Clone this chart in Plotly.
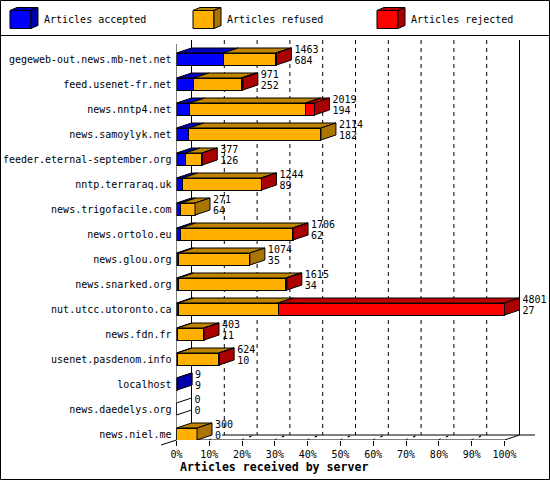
import plotly.graph_objects as go

# Data
servers = ["gegeweb-out.news.mb-net.net", "feed.usenet-fr.net", "news.nntp4.net", "news.samoylyk.net",
           "feeder.eternal-september.org", "nntp.terraraq.uk", "news.trigofacile.com", "news.ortolo.eu",
           "news.glou.org", "news.snarked.org", "nut.utcc.utoronto.ca", "news.fdn.fr",
           "usenet.pasdenom.info", "localhost", "news.daedelys.org", "news.niel.me"]
received = [1463, 971, 2019, 2114, 377, 1244, 271, 1706, 1074, 1615, 4801, 403, 624, 9, 0, 300]
accepted = [684, 252, 194, 182, 126, 89, 64, 62, 35, 34, 27, 11, 10, 9, 0, 0]
refused = [771, 694, 1695, 1932, 246, 1150, 207, 1639, 1039, 1566, 1460, 387, 609, 0, 0, 300]
rejected = [8, 25, 130, 0, 5, 5, 0, 5, 0, 15, 3314, 5, 5, 0, 0, 0]
pct_ticks = [0, 10, 20, 30, 40, 50, 60, 70, 80, 90, 100]

series_names = ["Articles accepted", "Articles refused", "Articles rejected"]
series_values = [accepted, refused, rejected]
front_colors = ["#0000ff", "#ffb000", "#ff0000"]
top_colors = ["#0000bf", "#bf8400", "#bf0000"]
side_colors = ["#0000aa", "#aa7500", "#aa0000"]

FONT = "DejaVu Sans Mono"
W, H = 550, 480

# pixel layout of the plot area
LEFT, RIGHT = 176.5, 549
TOP, BOTTOM = 40, 440
PX_X = 100 / 328   # percent per pixel
PX_Y = 1 / 25      # rows per pixel
DX = 15 * PX_X     # 3d depth
DY = 5 * PX_Y
HALF = 6 * PX_Y    # half bar height

scale = 100 / max(received)
rows = list(range(len(servers)))


def poly(xs, ys):
    return xs + [xs[0], None], ys + [ys[0], None]


fig = go.Figure()

# front faces
for name, vals, col in zip(series_names, series_values, front_colors):
    fig.add_trace(go.Bar(
        y=rows, x=[v * scale for v in vals], orientation="h", width=2 * HALF,
        marker=dict(color=col, line=dict(color="black", width=1)), name=name,
    ))

# top and side faces of the 3d bars
for k in range(3):
    tx, ty, sx, sy = [], [], [], []
    for i in rows:
        start = sum(series_values[j][i] for j in range(k)) * scale
        end = start + series_values[k][i] * scale
        if series_values[k][i] > 0:
            a, b = poly([start, end, end + DX, start + DX],
                        [i - HALF, i - HALF, i - HALF - DY, i - HALF - DY])
            tx += a
            ty += b
            later = sum(series_values[j][i] for j in range(k + 1, 3))
            if later == 0:
                a, b = poly([end, end + DX, end + DX, end],
                            [i - HALF, i - HALF - DY, i + HALF - DY, i + HALF])
                sx += a
                sy += b
    fig.add_trace(go.Scatter(x=tx, y=ty, mode="lines", fill="toself", fillcolor=top_colors[k],
                             line=dict(color="black", width=1), showlegend=False))
    fig.add_trace(go.Scatter(x=sx, y=sy, mode="lines", fill="toself", fillcolor=side_colors[k],
                             line=dict(color="black", width=1), showlegend=False))

# servers without articles only leave the outline
ex, ey = [], []
for i in rows:
    if received[i] == 0:
        a, b = poly([0, DX, DX, 0], [i - HALF, i - HALF - DY, i + HALF - DY, i + HALF])
        ex += a
        ey += b
fig.add_trace(go.Scatter(x=ex, y=ey, mode="lines", fill="toself", fillcolor="white",
                         line=dict(color="black", width=1), showlegend=False))

# value labels
for offset, vals in [(-8.5 * PX_Y, received), (2 * PX_Y, accepted)]:
    fig.add_trace(go.Scatter(
        x=[r * scale + DX + 3 * PX_X for r in received],
        y=[i + offset for i in rows],
        mode="text", text=[str(v) for v in vals], textposition="middle right",
        textfont=dict(family=FONT, size=10, color="black"),
        cliponaxis=False, showlegend=False,
    ))

shapes = []


def line(x0, y0, x1, y1, dash="solid", xref="x", yref="y", layer="below"):
    shapes.append(dict(type="line", x0=x0, y0=y0, x1=x1, y1=y1, xref=xref, yref=yref, layer=layer,
                       line=dict(color="black", width=1, dash=dash)))


row_bottom = (BOTTOM - 59) * PX_Y
row_top = (TOP - 59) * PX_Y
back_floor = row_bottom - DY

# walls, grid and floor
for t in pct_ticks[1:-1]:
    line(t + DX, row_top, t + DX, back_floor, dash="4px,4px")
line(DX, row_top, DX, back_floor)
line(100 + DX, row_top, 100 + DX, back_floor)
line(0, row_top + 4 * PX_Y, 0, row_bottom)
line(0, row_bottom, 100, row_bottom)
line(100, row_bottom, 100 + DX, back_floor)
line((222 - LEFT) * PX_X, back_floor, (535 - LEFT) * PX_X, back_floor)
for t in pct_ticks[2:-1]:
    line(t + 7 * PX_X, row_bottom - 3 * PX_Y, t + 9 * PX_X, row_bottom - 4 * PX_Y)
    line(t + 7.5 * PX_X, row_bottom - 3 * PX_Y, t + 9.5 * PX_X, row_bottom - 4 * PX_Y)
for t in pct_ticks[1:-1]:
    line(t, row_bottom, t + 1.5 * PX_X, row_bottom - 1.5 * PX_Y)

# frame and legend separator
shapes.append(dict(type="rect", x0=0.5 / W, x1=(W - 0.5) / W, y0=0.5 / H, y1=(H - 0.5) / H,
                   xref="paper", yref="paper", line=dict(color="black", width=1)))
line(0, 1 - 35.5 / H, 1, 1 - 35.5 / H, xref="paper", yref="paper")
line(161 / W, 1 - 445 / H, LEFT / W, 1 - 440 / H, xref="paper", yref="paper")

annotations = []

# legend, drawn as little boxes like the bars
legend_x = [10, 193, 377]
for x0, name, front, top, side in zip(legend_x, series_names, front_colors, top_colors, side_colors):
    y0, y1, w, dx, dy = 10.5, 28.5, 21, 7, 3
    faces = [
        (front, [(x0, y0), (x0 + w, y0), (x0 + w, y1), (x0, y1)]),
        (top, [(x0, y0), (x0 + dx, y0 - dy), (x0 + w + dx, y0 - dy), (x0 + w, y0)]),
        (side, [(x0 + w, y0), (x0 + w + dx, y0 - dy), (x0 + w + dx, y1 - dy), (x0 + w, y1)]),
    ]
    for col, pts in faces:
        path = "M " + " L ".join(f"{px / W:.5f},{1 - py / H:.5f}" for px, py in pts) + " Z"
        shapes.append(dict(type="path", path=path, xref="paper", yref="paper", fillcolor=col,
                           line=dict(color="black", width=1)))
    annotations.append(dict(text=name, x=(x0 + 32) / W, y=1 - 20 / H, xref="paper", yref="paper",
                            xanchor="left", yanchor="middle", showarrow=False,
                            font=dict(family=FONT, size=10, color="black")))

annotations.append(dict(text="<b>Articles received by server</b>", x=274 / W, y=1 - 467 / H,
                        xref="paper", yref="paper", xanchor="center", yanchor="middle", showarrow=False,
                        font=dict(family=FONT, size=11.6, color="black")))

fig.update_layout(
    width=W, height=H, barmode="stack", showlegend=False,
    margin=dict(l=0, r=0, t=0, b=0),
    paper_bgcolor="white", plot_bgcolor="white",
    xaxis=dict(
        domain=[LEFT / W, RIGHT / W], range=[0, (RIGHT - LEFT) * PX_X], automargin=False,
        tickvals=pct_ticks, ticktext=[f"{t}%" for t in pct_ticks],
        ticks="outside", ticklen=5, tickwidth=1, tickcolor="black",
        tickfont=dict(family=FONT, size=10, color="black"), tickangle=0,
        showgrid=False, zeroline=False, showline=False,
    ),
    yaxis=dict(
        domain=[1 - BOTTOM / H, 1 - TOP / H], range=[row_bottom, row_top], automargin=False,
        tickvals=rows, ticktext=servers, ticks="", ticklabelstandoff=4,
        tickfont=dict(family=FONT, size=10, color="black"),
        showgrid=False, zeroline=False, showline=False,
    ),
    shapes=shapes, annotations=annotations,
)

# the page margin would push the figure out of the window
fig.write_html("out.html", config=dict(displayModeBar=False),
               post_script="document.body.style.margin='0';document.documentElement.style.overflow='hidden';")
